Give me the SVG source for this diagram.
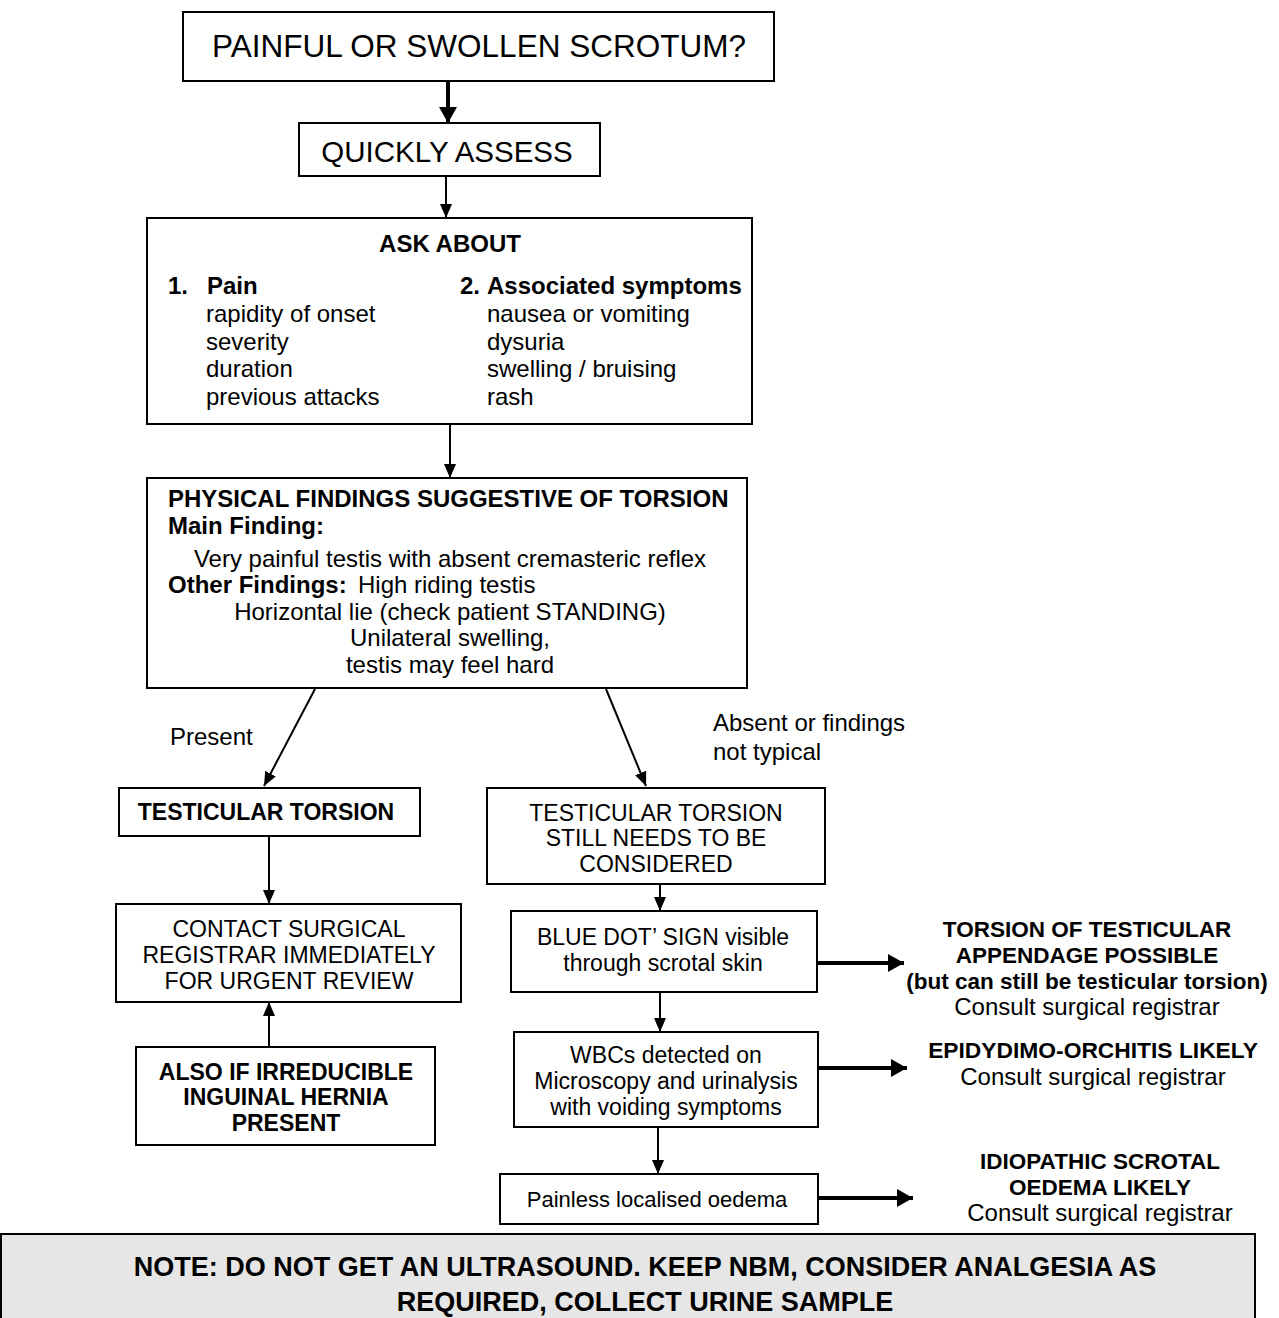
<svg xmlns="http://www.w3.org/2000/svg" width="1279" height="1318" viewBox="0 0 1279 1318">
<style>
.box{fill:#fff;stroke:#000;stroke-width:2}
.t{font-family:"Liberation Sans",Arial,sans-serif;font-size:24px;fill:#000}
.s{font-size:23px}
.c{text-anchor:middle}
.b{font-weight:bold}
.ln{stroke:#000;stroke-width:2;fill:none}
.thk{stroke:#000;stroke-width:4;fill:none}
</style>
<defs>
<marker id="ah" markerUnits="userSpaceOnUse" markerWidth="14" markerHeight="14" viewBox="0 0 14 14" refX="14" refY="7" orient="auto"><path d="M0,1 L14,7 L0,13 Z" fill="#000"/></marker>
<marker id="ahb" markerUnits="userSpaceOnUse" markerWidth="16" markerHeight="18" viewBox="0 0 16 18" refX="16" refY="9" orient="auto"><path d="M0,0 L16,9 L0,18 Z" fill="#000"/></marker>
</defs>
<g id="connectors">
<line class="thk" x1="448" y1="81" x2="448" y2="123" marker-end="url(#ahb)"/>
<line class="ln" x1="446" y1="176" x2="446" y2="218" marker-end="url(#ah)"/>
<line class="ln" x1="450" y1="424" x2="450" y2="478" marker-end="url(#ah)"/>
<line class="ln" x1="315" y1="689" x2="264" y2="786" marker-end="url(#ah)"/>
<line class="ln" x1="606" y1="689" x2="646" y2="786" marker-end="url(#ah)"/>
<line class="ln" x1="269" y1="836" x2="269" y2="904" marker-end="url(#ah)"/>
<line class="ln" x1="269" y1="1047" x2="269" y2="1002" marker-end="url(#ah)"/>
<line class="ln" x1="660" y1="884" x2="660" y2="911" marker-end="url(#ah)"/>
<line class="ln" x1="660" y1="992" x2="660" y2="1032" marker-end="url(#ah)"/>
<line class="ln" x1="658" y1="1127" x2="658" y2="1174" marker-end="url(#ah)"/>
<line class="thk" x1="817" y1="963" x2="904" y2="963" marker-end="url(#ahb)"/>
<line class="thk" x1="818" y1="1068" x2="907" y2="1068" marker-end="url(#ahb)"/>
<line class="thk" x1="818" y1="1198" x2="913" y2="1198" marker-end="url(#ahb)"/>
<text class="t" x="170" y="745">Present</text>
<text class="t" x="713" y="731">Absent or findings</text>
<text class="t" x="713" y="760">not typical</text>
</g>
<g id="n1">
<rect class="box" x="183" y="12" width="591" height="69"/>
<text class="t c" x="479" y="57" style="font-size:31.5px">PAINFUL OR SWOLLEN SCROTUM?</text>
</g>
<g id="n2">
<rect class="box" x="299" y="123" width="301" height="53"/>
<text class="t c" x="447" y="162" style="font-size:29.5px">QUICKLY ASSESS</text>
</g>
<g id="n3">
<rect class="box" x="147" y="218" width="605" height="206"/>
<text class="t c b" x="450" y="252">ASK ABOUT</text>
<text class="t b" x="168" y="294">1.</text>
<text class="t b" x="207" y="294">Pain</text>
<text class="t" x="206" y="322">rapidity of onset</text>
<text class="t" x="206" y="350">severity</text>
<text class="t" x="206" y="377">duration</text>
<text class="t" x="206" y="405">previous attacks</text>
<text class="t b" x="460" y="294">2.</text>
<text class="t b" x="487" y="294">Associated symptoms</text>
<text class="t" x="487" y="322">nausea or vomiting</text>
<text class="t" x="487" y="350">dysuria</text>
<text class="t" x="487" y="377">swelling / bruising</text>
<text class="t" x="487" y="405">rash</text>
</g>
<g id="n4">
<rect class="box" x="147" y="478" width="600" height="210"/>
<text class="t b" x="168" y="507">PHYSICAL FINDINGS SUGGESTIVE OF TORSION</text>
<text class="t b" x="168" y="534">Main Finding:</text>
<text class="t c" x="450" y="567">Very painful testis with absent cremasteric reflex</text>
<text class="t" x="168" y="593"><tspan class="b">Other Findings:</tspan><tspan x="358">High riding testis</tspan></text>
<text class="t c" x="450" y="620">Horizontal lie (check patient STANDING)</text>
<text class="t c" x="450" y="646">Unilateral swelling,</text>
<text class="t c" x="450" y="673">testis may feel hard</text>
</g>
<g id="n5">
<rect class="box" x="119" y="788" width="301" height="48"/>
<text class="t c b s" x="266" y="820">TESTICULAR TORSION</text>
</g>
<g id="n6">
<rect class="box" x="487" y="788" width="338" height="96"/>
<text class="t c s" x="656" y="821">TESTICULAR TORSION</text>
<text class="t c s" x="656" y="846">STILL NEEDS TO BE</text>
<text class="t c s" x="656" y="872">CONSIDERED</text>
</g>
<g id="n7">
<rect class="box" x="116" y="904" width="345" height="98"/>
<text class="t c s" x="289" y="937">CONTACT SURGICAL</text>
<text class="t c s" x="289" y="963">REGISTRAR IMMEDIATELY</text>
<text class="t c s" x="289" y="989">FOR URGENT REVIEW</text>
</g>
<g id="n8">
<rect class="box" x="136" y="1047" width="299" height="98"/>
<text class="t c b s" x="286" y="1080">ALSO IF IRREDUCIBLE</text>
<text class="t c b s" x="286" y="1105">INGUINAL HERNIA</text>
<text class="t c b s" x="286" y="1131">PRESENT</text>
</g>
<g id="n9">
<rect class="box" x="511" y="911" width="306" height="81"/>
<text class="t c s" x="663" y="945">BLUE DOT’ SIGN visible</text>
<text class="t c s" x="663" y="971">through scrotal skin</text>
</g>
<g id="n10">
<text class="t c b" x="1087" y="937" style="font-size:22.5px">TORSION OF TESTICULAR</text>
<text class="t c b" x="1087" y="963" style="font-size:22.5px">APPENDAGE POSSIBLE</text>
<text class="t c b" x="1087" y="989" style="font-size:22.5px">(but can still be testicular torsion)</text>
<text class="t c" x="1087" y="1015">Consult surgical registrar</text>
</g>
<g id="n11">
<rect class="box" x="514" y="1032" width="304" height="95"/>
<text class="t c s" x="666" y="1063">WBCs detected on</text>
<text class="t c s" x="666" y="1089">Microscopy and urinalysis</text>
<text class="t c s" x="666" y="1115">with voiding symptoms</text>
</g>
<g id="n12">
<text class="t c b" x="1093" y="1058" style="font-size:22.8px">EPIDYDIMO-ORCHITIS LIKELY</text>
<text class="t c" x="1093" y="1085">Consult surgical registrar</text>
</g>
<g id="n13">
<rect class="box" x="500" y="1174" width="318" height="50"/>
<text class="t c" x="657" y="1207" style="font-size:22px">Painless localised oedema</text>
</g>
<g id="n14">
<text class="t c b" x="1100" y="1169" style="font-size:22.5px">IDIOPATHIC SCROTAL</text>
<text class="t c b" x="1100" y="1195" style="font-size:22.5px">OEDEMA LIKELY</text>
<text class="t c" x="1100" y="1221">Consult surgical registrar</text>
</g>
<g id="n15">
<rect x="1" y="1234" width="1254" height="90" fill="#e6e6e6" stroke="#000" stroke-width="2"/>
<text class="t c b" x="645" y="1276" style="font-size:27px">NOTE: DO NOT GET AN ULTRASOUND. KEEP NBM, CONSIDER ANALGESIA AS</text>
<text class="t c b" x="645" y="1311" style="font-size:27px">REQUIRED, COLLECT URINE SAMPLE</text>
</g>
</svg>
